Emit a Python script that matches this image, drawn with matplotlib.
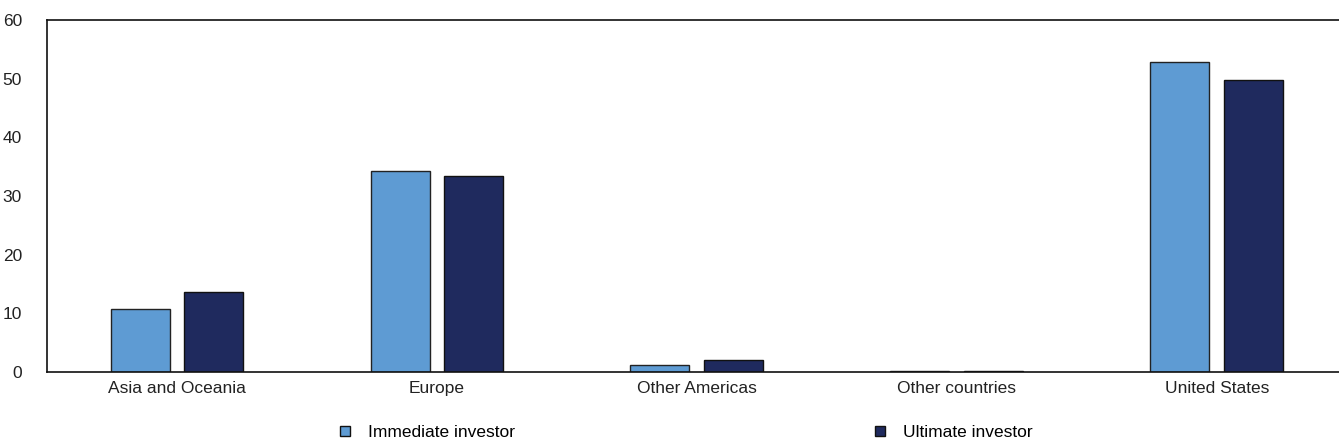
import matplotlib.pyplot as plt
import numpy as np
from matplotlib.lines import Line2D

plt.rcParams['font.family'] = ['Liberation Sans', 'DejaVu Sans']

categories = ['Asia and Oceania', 'Europe', 'Other Americas', 'Other countries', 'United States']
immediate = [10.7, 34.3, 1.2, 0.2, 52.8]
ultimate = [13.7, 33.4, 2.1, 0.2, 49.8]

c_imm = '#5E9BD3'
c_ult = '#1F2A5E'

fig = plt.figure(figsize=(13.39, 4.47), dpi=100)
ax = fig.add_axes([47/1339, 75/447, 1 - 47/1339, 352/447])

x = np.arange(len(categories))
w = 0.227
ax.bar(x - 0.142, immediate, w, color=c_imm, edgecolor='#222222', linewidth=1)
ax.bar(x + 0.142, ultimate, w, color=c_ult, edgecolor='#111111', linewidth=1)

ax.set_xlim(-0.5, 4.47)
ax.set_ylim(0, 60)
ax.set_yticks(range(0, 61, 10))
ax.set_xticks(x)
ax.set_xticklabels(categories)
ax.tick_params(axis='both', length=0, labelsize=12.5, colors='#222222')
ax.tick_params(axis='y', pad=18)
ax.tick_params(axis='x', pad=6.5)
ax.spines['right'].set_visible(False)
for s in ['left', 'top', 'bottom']:
    ax.spines[s].set_linewidth(1.2)
    ax.spines[s].set_color('#111111')

handles = [Line2D([], [], marker='s', linestyle='none', markersize=7,
                  markerfacecolor=c_imm, markeredgecolor='#111111'),
           Line2D([], [], marker='s', linestyle='none', markersize=7,
                  markerfacecolor=c_ult, markeredgecolor='#111111')]
fig.legend(handles, ['Immediate investor', 'Ultimate investor'], ncol=2,
           loc='center left', bbox_to_anchor=(336/1339, 1 - 432/447),
           frameon=False, fontsize=12.5, columnspacing=20.5, handletextpad=0.85,
           handlelength=1.0, borderpad=0, borderaxespad=0)

fig.savefig('out.png', dpi=100)
